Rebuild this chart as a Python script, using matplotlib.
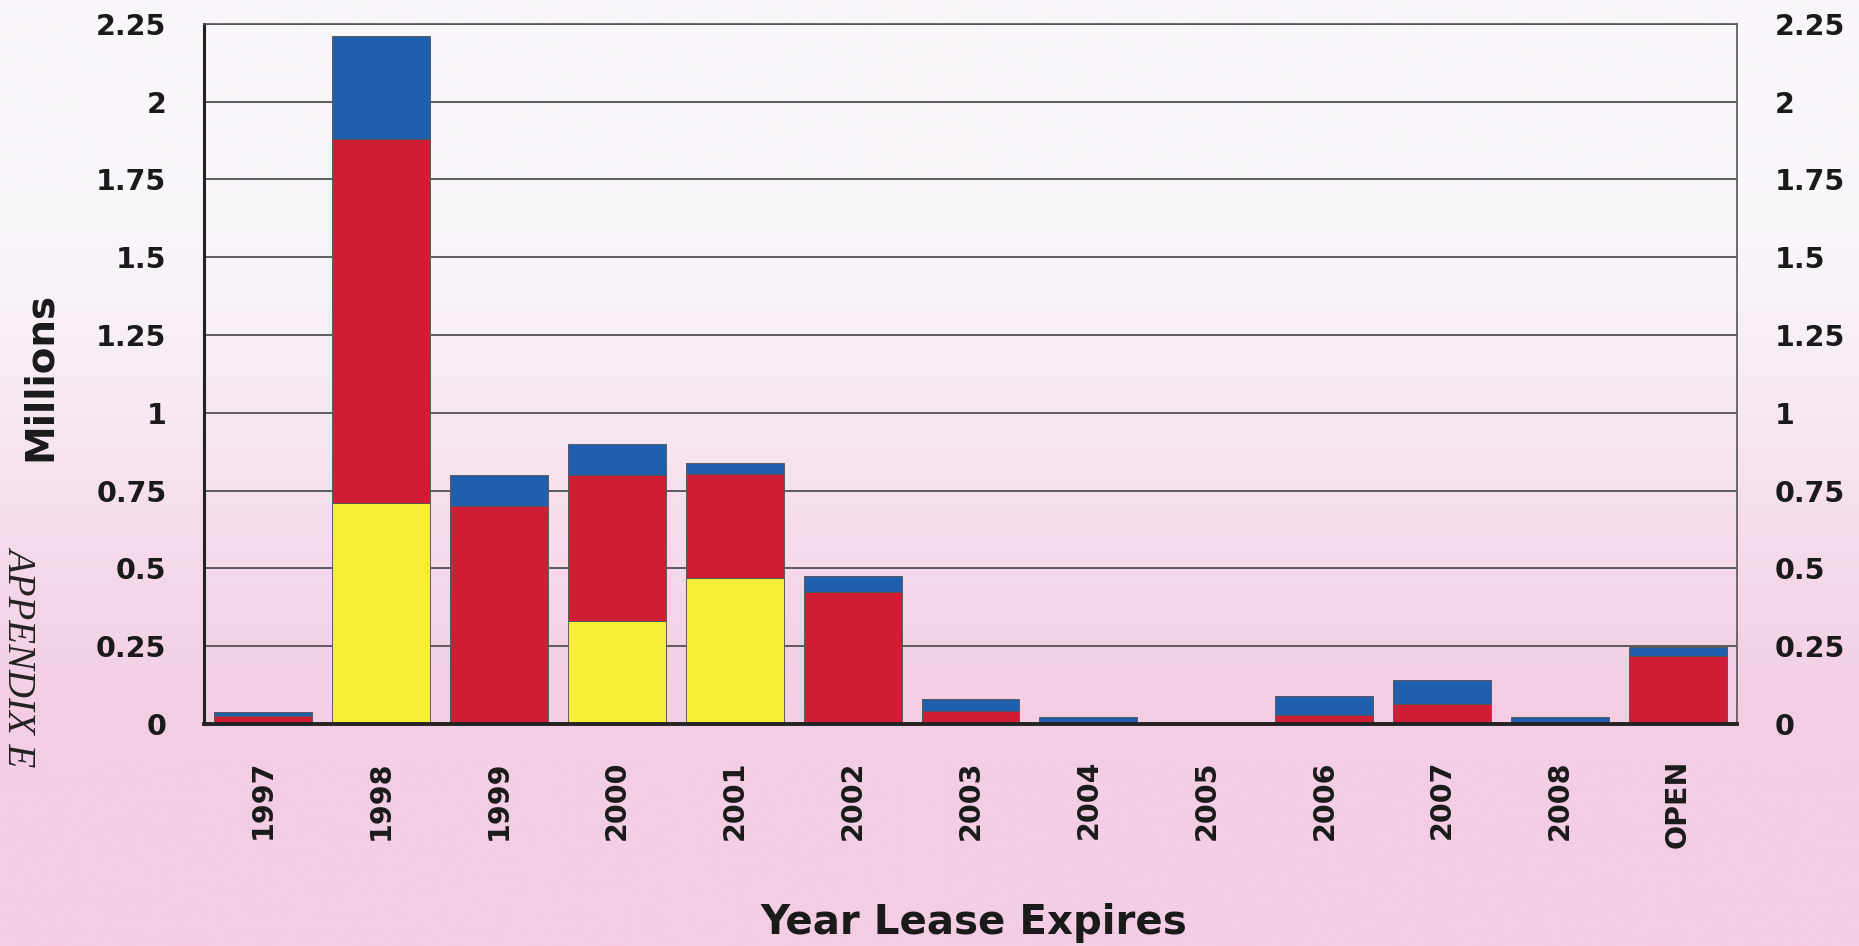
import matplotlib.pyplot as plt
import numpy as np
from matplotlib.colors import LinearSegmentedColormap

# lease expirations by year, millions
years = ['1997', '1998', '1999', '2000', '2001', '2002', '2003',
         '2004', '2005', '2006', '2007', '2008', 'OPEN']
yellow = [0, 0.71, 0, 0.33, 0.47, 0, 0, 0, 0, 0, 0, 0, 0]
red = [0.025, 1.17, 0.70, 0.47, 0.335, 0.425, 0.042, 0, 0, 0.028, 0.065, 0, 0.22]
blue = [0.015, 0.33, 0.10, 0.10, 0.035, 0.05, 0.037, 0.022, 0, 0.063, 0.076, 0.023, 0.027]
yticks = [0, 0.25, 0.5, 0.75, 1, 1.25, 1.5, 1.75, 2, 2.25]
ytick_labels = ['0', '0.25', '0.5', '0.75', '1', '1.25', '1.5', '1.75', '2', '2.25']

plt.rcParams['font.family'] = 'DejaVu Sans'
plt.rcParams['font.weight'] = 'bold'

fig = plt.figure(figsize=(18.59, 9.46), dpi=100)

# white-to-pink page background
bg = fig.add_axes([0, 0, 1, 1], zorder=-1)
t = np.linspace(0, 1, 400)
s = np.clip((t - 0.18) / 0.65, 0, 1)
s = s * s * (3 - 2 * s)
grad = s[:, None]
pink = LinearSegmentedColormap.from_list('pink', ['#f9f6fa', '#f3cde3'])
bg.imshow(grad, aspect='auto', cmap=pink, extent=[0, 1, 0, 1], origin='upper')
bg.axis('off')

ax = fig.add_axes([0.1097, 0.2347, 0.8247, 0.74], zorder=1)
ax.patch.set_alpha(0)

x = np.arange(len(years))
y_arr = np.array(yellow)
r_arr = np.array(red)
b_arr = np.array(blue)
w = 0.83
edge = dict(edgecolor='#5a5a5a', linewidth=0.7)
ax.bar(x, y_arr, w, color='#f6ee36', **edge)
ax.bar(x, r_arr, w, bottom=y_arr, color='#cf1d36', **edge)
ax.bar(x, b_arr, w, bottom=y_arr + r_arr, color='#1f5fae', **edge)

ax.set_xlim(-0.5, len(years) - 0.5)
ax.set_ylim(0, 2.25)
ax.set_yticks(yticks)
ax.set_yticklabels(ytick_labels)
ax.set_xticks(x)
ax.set_xticklabels(years, rotation=90)

ax.set_axisbelow(True)
ax.yaxis.grid(True, color='#444444', linewidth=1.2)
ax.tick_params(axis='y', length=0, labelsize=20.5, pad=27, labelright=True)
ax.tick_params(axis='x', length=0, labelsize=20.5, pad=26)
for lab in ax.get_xticklabels() + ax.get_yticklabels():
    lab.set_color('#1a1a1a')

ax.spines['left'].set_linewidth(2.2)
ax.spines['left'].set_color('#222222')
ax.spines['bottom'].set_linewidth(2.8)
ax.spines['bottom'].set_color('#222222')
ax.spines['top'].set_linewidth(1.2)
ax.spines['top'].set_color('#555555')
ax.spines['right'].set_linewidth(1.2)
ax.spines['right'].set_color('#555555')

fig.text(0.0215, 0.6025, 'Millions', rotation=90, fontsize=28,
         fontweight='bold', ha='center', va='center', color='#1a1a1a')
fig.text(0.524, 0.0127, 'Year Lease Expires', fontsize=29,
         fontweight='bold', ha='center', va='baseline', color='#1a1a1a')
fig.text(0.0108, 0.3066, 'APPENDIX E', rotation=-90, fontsize=28,
         family='Liberation Serif', style='italic', fontweight='normal',
         ha='center', va='center', color='#222222')

fig.savefig('out.png', dpi=100)
